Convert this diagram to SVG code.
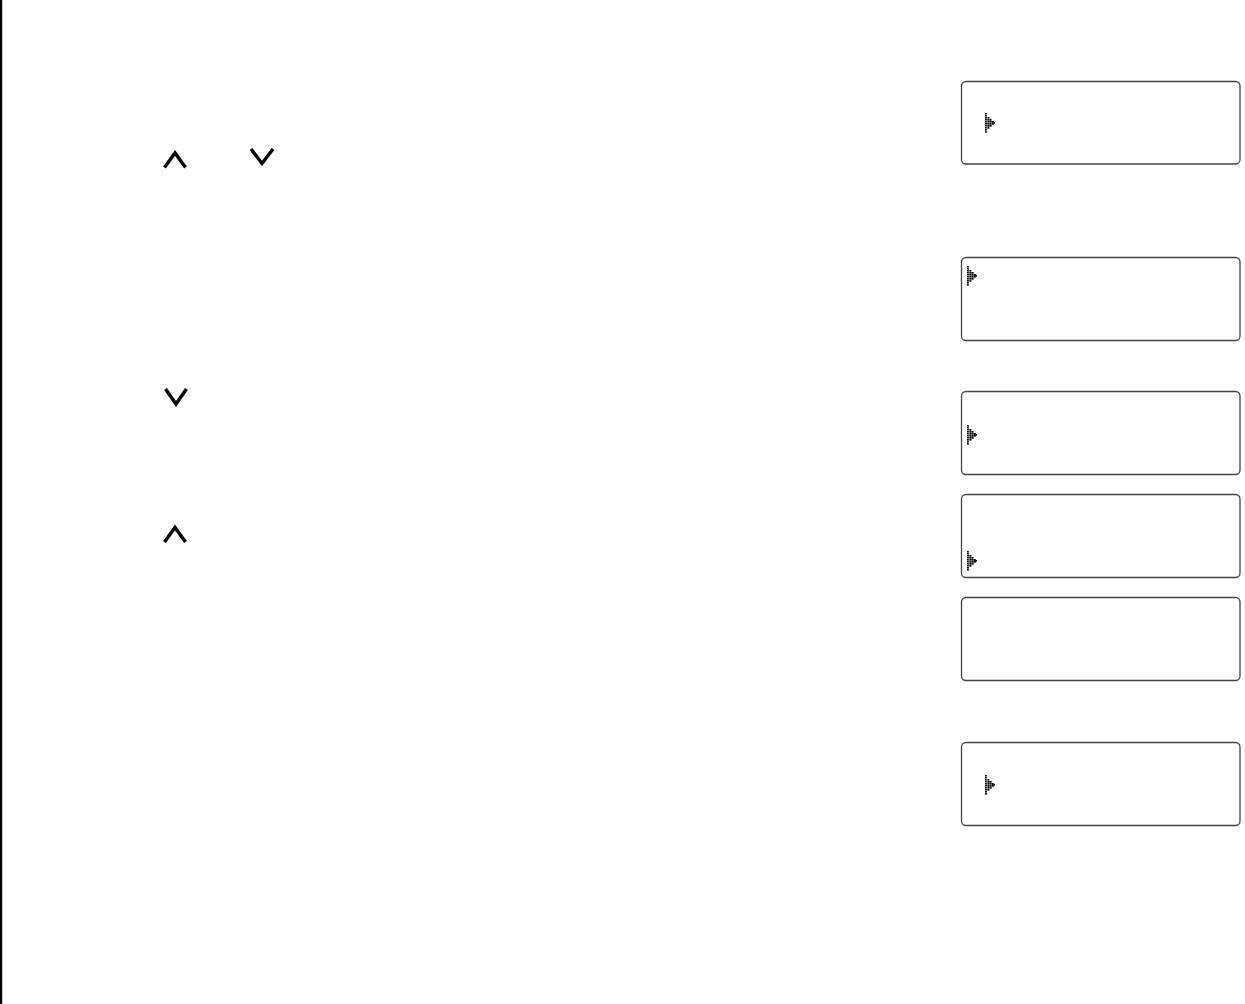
<svg xmlns="http://www.w3.org/2000/svg" xmlns:xlink="http://www.w3.org/1999/xlink" width="1245" height="1004" viewBox="0 0 1245 1004">
<style>
.box{fill:#fff;stroke:#444;stroke-width:1.3}
.chev{fill:none;stroke:#000;stroke-width:3.4;stroke-linejoin:miter;stroke-linecap:butt}
.dot{fill:#000}
</style>
<defs>
<g id="cursor">
<rect class="dot" x="0" y="0" width="1.8" height="1.6"/>
<rect class="dot" x="0" y="2" width="1.8" height="1.6"/>
<rect class="dot" x="0" y="4" width="1.8" height="1.6"/>
<rect class="dot" x="0" y="6" width="1.8" height="1.6"/>
<rect class="dot" x="0" y="8" width="1.8" height="1.6"/>
<rect class="dot" x="0" y="10" width="1.8" height="1.6"/>
<rect class="dot" x="0" y="12" width="1.8" height="1.6"/>
<rect class="dot" x="0" y="14" width="1.8" height="1.6"/>
<rect class="dot" x="0" y="16" width="1.8" height="1.6"/>
<rect class="dot" x="0" y="18" width="1.8" height="1.6"/>
<rect class="dot" x="2.4" y="4" width="2" height="1.7"/>
<rect class="dot" x="2.4" y="6" width="2" height="1.7"/>
<rect class="dot" x="2.4" y="8" width="2" height="1.7"/>
<rect class="dot" x="2.4" y="10" width="2" height="1.7"/>
<rect class="dot" x="2.4" y="12" width="2" height="1.7"/>
<rect class="dot" x="2.4" y="14" width="2" height="1.7"/>
<rect class="dot" x="4.6" y="6" width="2" height="1.7"/>
<rect class="dot" x="4.6" y="8" width="2" height="1.7"/>
<rect class="dot" x="4.6" y="10" width="2" height="1.7"/>
<rect class="dot" x="4.6" y="12" width="2" height="1.7"/>
<rect class="dot" x="6.8" y="8" width="2" height="3.7"/>
<rect class="dot" x="8.6" y="9" width="1.4" height="1.6"/>
</g>
</defs>
<rect x="0" y="0" width="2.2" height="1004" fill="#000"/>
<g id="keys">
<path class="chev" d="M164.5,167.5 L175,153 L185.5,167.5"/>
<path class="chev" d="M251,149 L262,163.5 L273,149"/>
<path class="chev" d="M165.5,389 L176,404 L186.5,389"/>
<path class="chev" d="M164.5,542 L175,527.5 L185.5,542"/>
</g>
<g id="screen1"><rect class="box" x="961.5" y="81.5" width="278.5" height="82.5" rx="4.5"/><use xlink:href="#cursor" x="985" y="113"/></g>
<g id="screen2"><rect class="box" x="961.5" y="257.5" width="278.5" height="83" rx="4.5"/><use xlink:href="#cursor" x="967" y="266"/></g>
<g id="screen3"><rect class="box" x="961.5" y="391.5" width="278.5" height="83" rx="4.5"/><use xlink:href="#cursor" x="967" y="425"/></g>
<g id="screen4"><rect class="box" x="961.5" y="494.5" width="278.5" height="83" rx="4.5"/><use xlink:href="#cursor" x="967" y="551"/></g>
<g id="screen5"><rect class="box" x="961.5" y="597.5" width="278.5" height="83" rx="4.5"/></g>
<g id="screen6"><rect class="box" x="961.5" y="742.5" width="278.5" height="83" rx="4.5"/><use xlink:href="#cursor" x="985" y="775"/></g>
<g id="connectors"/>
</svg>
